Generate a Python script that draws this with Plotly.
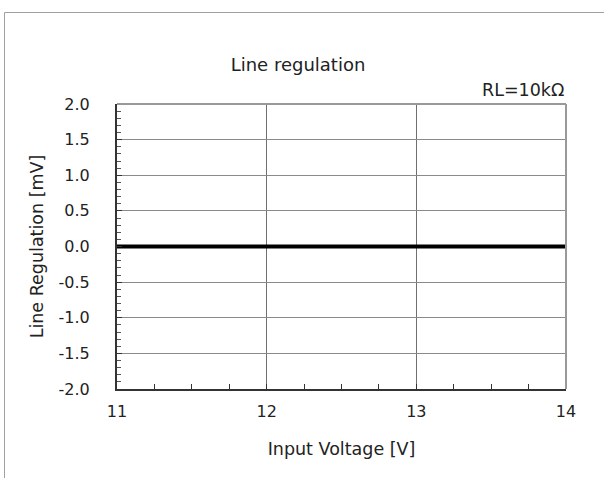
import plotly.graph_objects as go

# Data
input_voltage = [11, 12, 13, 14]
line_regulation_mv = [0.0, 0.0, 0.0, 0.0]
x_ticks = [11, 12, 13, 14]
y_ticks = [-2.0, -1.5, -1.0, -0.5, 0.0, 0.5, 1.0, 1.5, 2.0]
y_tick_labels = ["-2.0", "-1.5", "-1.0", "-0.5", "0.0", "0.5", "1.0", "1.5", "2.0"]

FONT = "DejaVu Sans"
W, H = 604, 478
L, T = 117, 104
pw, ph = 449, 285
R, B = W - L - pw, H - T - ph

def px(x):
    return (x - L) / pw

def py(y):
    return (H - B - y) / ph

fig = go.Figure()
fig.add_trace(go.Scatter(
    x=input_voltage, y=line_regulation_mv, mode="lines",
    line=dict(color="#000000", width=4), showlegend=False, hoverinfo="skip"))

fig.update_layout(
    width=W, height=H,
    margin=dict(l=L, r=R, t=T, b=B),
    paper_bgcolor="white", plot_bgcolor="white",
    font=dict(family=FONT, color="#222222", size=16),
    title=dict(text="Line regulation", x=298 / W, xref="container", xanchor="center",
               y=1 - 65 / H, yref="container", yanchor="middle",
               font=dict(size=18, family=FONT)),
    showlegend=False,
)

fig.update_xaxes(
    range=[11, 14], tickvals=x_ticks, ticktext=[str(v) for v in x_ticks],
    showgrid=True, gridcolor="#707070", gridwidth=1, zeroline=False,
    showline=True, linecolor="#333333", linewidth=2,
    ticks="inside", ticklen=5, tickcolor="#333333",
    minor=dict(dtick=0.25, ticks="inside", ticklen=5, tickcolor="#333333", showgrid=False),
    tickfont=dict(size=16, family=FONT), ticklabelstandoff=7,
    title=dict(text="Input Voltage [V]", font=dict(size=17.5, family=FONT), standoff=23),
)
fig.update_yaxes(
    range=[-2, 2], tickvals=y_ticks, ticktext=y_tick_labels,
    showgrid=True, gridcolor="#8a8a8a", gridwidth=1, zeroline=False,
    showline=True, linecolor="#333333", linewidth=2,
    ticks="inside", ticklen=5, tickcolor="#333333",
    minor=dict(dtick=0.1, ticks="inside", ticklen=4, tickcolor="#555555", showgrid=False),
    tickfont=dict(size=16, family=FONT), ticklabelstandoff=22,
    title=dict(text="Line Regulation [mV]", font=dict(size=17.5, family=FONT), standoff=10),
)

shapes = [
    dict(type="line", xref="paper", yref="paper", x0=0, x1=1, y0=1, y1=1,
         line=dict(color="#999999", width=2)),
    dict(type="line", xref="paper", yref="paper", x0=1, x1=1, y0=0, y1=1,
         line=dict(color="#999999", width=2)),
    dict(type="rect", xref="paper", yref="paper",
         x0=px(4.5), x1=px(W + 10), y0=py(H + 10), y1=py(12.5),
         line=dict(color="#a0a0a0", width=1), layer="below"),
]
fig.update_layout(shapes=shapes)

fig.add_annotation(text="RL=10kΩ", xref="paper", yref="paper",
                   x=1, y=py(90), xanchor="right", yanchor="middle",
                   showarrow=False, font=dict(size=17.5, family=FONT, color="#222222"))

fig.write_html("out.html", config={"displayModeBar": False},
               post_script="document.body.style.margin='0';")
